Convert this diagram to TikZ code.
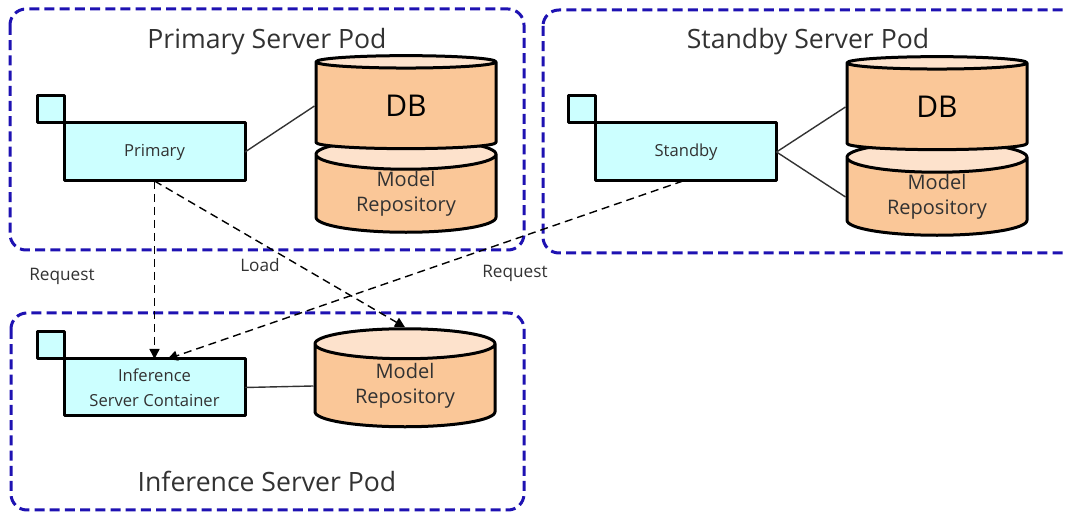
\documentclass[tikz,border=0pt]{standalone}
\usepackage{fontspec}
\setmainfont{Open Sans}
\usetikzlibrary{shapes.geometric,arrows.meta}
\definecolor{podblue}{RGB}{30,18,178}
\definecolor{boxcyan}{RGB}{204,255,255}
\definecolor{dbbody}{RGB}{250,199,152}
\definecolor{dbtop}{RGB}{253,226,204}
\definecolor{labelgray}{RGB}{50,50,50}
\tikzset{
  pod/.style={draw=podblue, line width=1.5pt, dash pattern=on 5pt off 2.6pt, rounded corners=8pt},
  podtitle/.style={font=\fontsize{13.3}{15}\selectfont, text=labelgray},
  container/.style={draw, line width=1.5pt, fill=boxcyan, minimum width=90.5pt, minimum height=29pt,
    font=\fontsize{8.3}{12.5}\selectfont, text=labelgray, align=center, inner sep=0pt, outer sep=0pt},
  tab/.style={draw, line width=1.5pt, fill=boxcyan, minimum size=13.5pt, inner sep=0pt, outer sep=0pt},
  store/.style={cylinder, shape border rotate=90, draw, line width=1.5pt, aspect=0.3,
    cylinder uses custom fill, cylinder body fill=dbbody, cylinder end fill=dbtop,
    minimum width=90pt, minimum height=46.5pt, inner sep=0pt, align=center, text=labelgray,
    font=\fontsize{10}{12.5}\selectfont},
  link/.style={line width=0.7pt, draw=black!80},
  req/.style={->, line width=0.7pt, dash pattern=on 4pt off 2.5pt},
  tag/.style={font=\fontsize{8.6}{11}\selectfont, text=labelgray}
}
\begin{document}
\begin{tikzpicture}[x=0.5pt, y=-0.5pt, >={Triangle[length=5pt,width=5pt]}, line join=round]
	\useasboundingbox (0,0) rectangle (1065,512);
	% pods
	\draw[pod] (10,9) rectangle (524,250);
	\draw[pod] (543,10) rectangle (1095,253);
	\draw[pod] (11,313) rectangle (524,510);
	\node[podtitle] (ptitle) at (267,42) {Primary Server Pod};
	\node[podtitle] (stitle) at (808,42) {Standby Server Pod};
	\node[podtitle] (ititle) at (267,481) {Inference Server Pod};
	% primary pod
	\node[container] (primary) at (154.5,152) {Primary};
	\node[tab, anchor=south east] (primarytab) at (primary.north west) {};
	\node[store] (pmodel) at (406,194) {Model\\Repository};
	\node[store, font=\fontsize{15}{18}\selectfont, text=black] (pdb) at (406,106) {DB};
	\draw[link] (primary.east) -- (pdb.west);
	% standby pod
	\node[container] (standby) at (686,152) {Standby};
	\node[tab, anchor=south east] (standbytab) at (standby.north west) {};
	\node[store] (smodel) at (937,197) {Model\\Repository};
	\node[store, font=\fontsize{15}{18}\selectfont, text=black] (sdb) at (937,107) {DB};
	\draw[link] (standby.east) -- (sdb.west);
	\draw[link] (standby.east) -- (smodel.west);
	% inference pod
	\node[container, minimum height=28.5pt] (infer) at (154.5,387.5) {Inference\\Server Container};
	\node[tab, anchor=south east] (infertab) at (infer.north west) {};
	\node[store, minimum height=49pt] (imodel) at (405,386) {Model\\Repository};
	\draw[link] (infer.east) -- (imodel.west);
	% requests and load
	\draw[req] (primary.south) -- (infer.north);
	\draw[req] ([xshift=-1.5pt]standby.south) -- ([xshift=6.5pt]infer.north);
	\draw[req] (primary.south) -- (imodel.north);
	\node[tag] (reqleft) at (62,276) {Request};
	\node[tag] (loadtag) at (260,265) {Load};
	\node[tag] (reqright) at (515,273) {Request};
\end{tikzpicture}
\end{document}
